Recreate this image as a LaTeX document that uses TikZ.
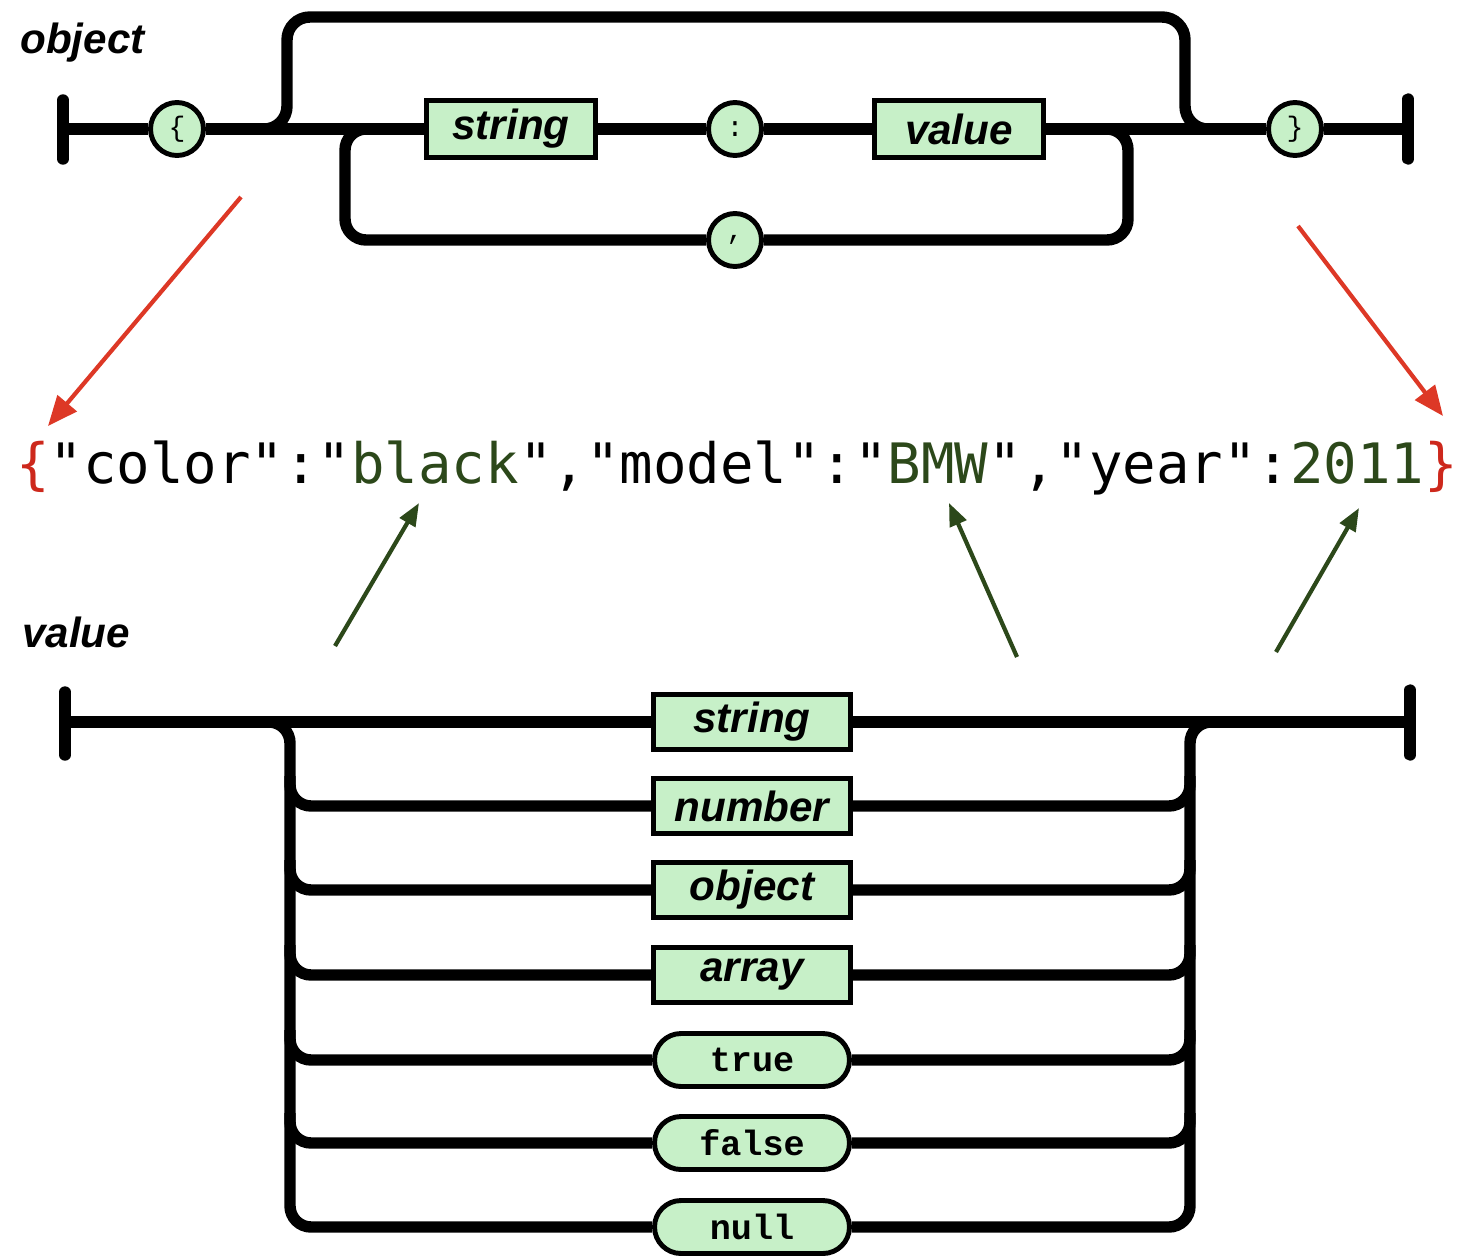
\documentclass[tikz,border=0pt]{standalone}
\usepackage{fontspec}
\setsansfont{Liberation Sans}
\setmonofont{DejaVu Sans Mono}
\newfontfamily\codefont{Liberation Mono}
\usetikzlibrary{arrows.meta,positioning,shapes.misc}
\definecolor{boxGreen}{RGB}{199,240,200}
\definecolor{valGreen}{RGB}{44,72,26}
\definecolor{arrRed}{RGB}{221,56,38}
\definecolor{braceRed}{RGB}{205,40,28}
\tikzset{
    rail/.style={line width=6.5pt, black},
    bar/.style={line width=6.5pt, line cap=round},
    bx/.style={draw, line width=2.8pt, fill=boxGreen, minimum width=3.38cm, minimum height=1.14cm, inner sep=0pt,
               font=\sffamily\bfseries\itshape\fontsize{24}{24}\selectfont},
    vbx/.style={bx, minimum width=3.94cm, minimum height=1.1cm},
    pt/.style={circle, draw, line width=2.8pt, fill=boxGreen, minimum size=1.06cm, inner sep=0pt,
               font=\codefont\fontsize{16}{16}\selectfont},
    lit/.style={rounded rectangle, draw, line width=2.8pt, fill=boxGreen, minimum width=3.9cm, minimum height=1.06cm,
                inner sep=0pt, font=\codefont\bfseries\fontsize{20}{20}\selectfont},
    lbl/.style={font=\sffamily\bfseries\itshape\fontsize{24}{24}\selectfont, inner sep=0pt},
    redarr/.style={line width=2.4pt, arrRed, -{Triangle[length=17pt,width=14pt]}},
    grnarr/.style={line width=2.4pt, valGreen, -{Triangle[length=13pt,width=10pt]}}
}
\begin{document}
\begin{tikzpicture}[x=0.02cm,y=-0.02cm]
\useasboundingbox (0,0) rectangle (1463,1258);

% object
\node[lbl,anchor=base west] (objlbl) at (20,53) {object};
\coordinate (ls) at (63,129);
\coordinate (rs) at (1408,129);
\node[pt] (lbrace) at (177,129) {\{};
\node[bx] (str) at (511,129) {string};
\node[pt] (colon) at (735,129) {:};
\node[bx] (val) at (959,129) {value};
\node[pt] (rbrace) at (1295,129) {\}};
\node[pt] (comma) at (735,240) {,};
\coordinate (bypL) at (262,129);
\coordinate (topL) at (287,17);
\coordinate (topR) at (1185,17);
\coordinate (bypR) at (1210,129);
\coordinate (loopL) at (370,129);
\coordinate (loopBL) at (345,240);
\coordinate (loopBR) at (1128,240);
\coordinate (loopR) at (1103,129);

\draw[bar] ([yshift=0.58cm]ls) -- ([yshift=-0.6cm]ls);
\draw[bar] ([yshift=0.6cm]rs) -- ([yshift=-0.6cm]rs);
\draw[rail] (ls) -- (lbrace) -- (str) -- (colon) -- (val) -- (rbrace) -- (rs);
\draw[rail,rounded corners=13pt] (bypL) -| (topL) -- (topR) |- (bypR);
\draw[rail,rounded corners=12pt] (loopL) -| (loopBL) -- (comma) -- (loopBR) |- (loopR);

% example text
\node[font=\ttfamily\fontsize{31.7}{31.7}\selectfont, anchor=base, inner sep=0pt] (json) at (737,483)
  {\textcolor{braceRed}{\{}"color":"\textcolor{valGreen}{black}","model":"\textcolor{valGreen}{BMW}","year":\textcolor{valGreen}{2011}\textcolor{braceRed}{\}}};
\coordinate (r1s) at (241,197);
\coordinate (r1e) at (48,426);
\coordinate (r2s) at (1298,226);
\coordinate (r2e) at (1443,416);
\draw[redarr] (r1s) -- (r1e);
\draw[redarr] (r2s) -- (r2e);
\coordinate (g1s) at (335,646);
\coordinate (g1e) at (419,503);
\coordinate (g2s) at (1017,657);
\coordinate (g2e) at (949,503);
\coordinate (g3s) at (1276,652);
\coordinate (g3e) at (1359,508);
\draw[grnarr] (g1s) -- (g1e);
\draw[grnarr] (g2s) -- (g2e);
\draw[grnarr] (g3s) -- (g3e);

% value
\node[lbl,anchor=base west] (vallbl) at (22,647) {value};
\coordinate (vls) at (65,722);
\coordinate (vrs) at (1410,722);
\node[vbx] (vstr) at (752,722) {string};
\node[vbx] (vnum) at (752,806) {number};
\node[vbx] (vobj) at (752,890) {object};
\node[vbx] (varr) at (752,975) {array};
\node[lit] (vtrue) at (752,1060) {true};
\node[lit] (vfalse) at (752,1143) {false};
\node[lit] (vnull) at (752,1227) {null};
\coordinate (busTL) at (265,722);
\coordinate (busBL) at (290,1227);
\coordinate (busBR) at (1190,1227);
\coordinate (busTR) at (1215,722);
\coordinate (lbus) at (290,722);
\coordinate (rbus) at (1190,722);

\draw[bar] ([yshift=0.6cm]vls) -- ([yshift=-0.66cm]vls);
\draw[bar] ([yshift=0.64cm]vrs) -- ([yshift=-0.66cm]vrs);
\draw[rail] (vls) -- (vstr) -- (vrs);
\draw[rail,rounded corners=12pt] (busTL) -| (busBL) -- (vnull) -- (busBR) |- (busTR);
\foreach \b in {vnum,vobj,varr,vtrue,vfalse}{
  \draw[rail,rounded corners=12pt] ([yshift=0.6cm]lbus |- \b) |- (\b);
  \draw[rail,rounded corners=12pt] (\b) -| ([yshift=0.6cm]rbus |- \b);
}
\end{tikzpicture}
\end{document}
